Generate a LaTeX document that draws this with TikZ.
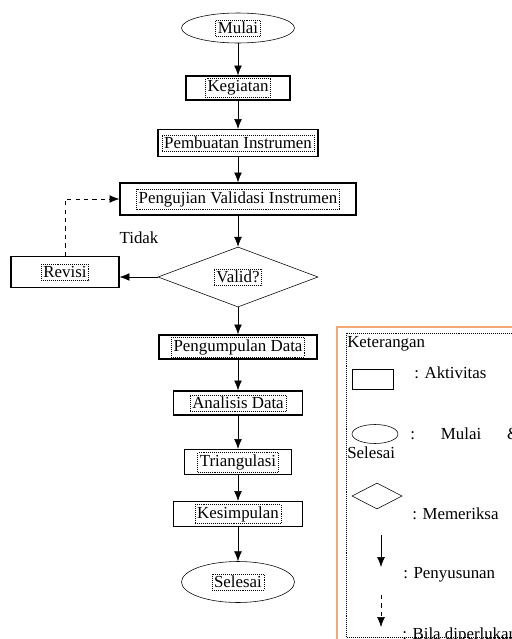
\documentclass[tikz,border=0pt]{standalone}
\usepackage{fontspec}
\setmainfont{Liberation Serif}
\usetikzlibrary{shapes,arrows.meta,positioning}
\definecolor{oranye}{HTML}{F4A872}
\tikzset{
    -{Latex[length=7pt,width=5.5pt]},semithick,
    teks/.style ={draw, densely dotted, thin, inner sep=1.5pt},
    aktv/.style ={rectangle, draw, thick, label={[teks]center:#1}},
    ujung/.style ={ellipse, draw, label={[teks]center:#1}},
    cek/.style ={diamond, draw, aspect=2.6, label={[teks]center:#1}},
    ket/.style = {anchor=west, inner sep=0pt}
}
\begin{document}
\begin{tikzpicture}[x=0.025cm,y=-0.025cm,font=\fontsize{12}{14}\selectfont]
    \useasboundingbox (0,0) rectangle (512,639);

    % alur utama
    \node[ujung=Mulai, minimum width=2.825cm, minimum height=0.75cm] (mulai) at (238,28) {};
    \node[aktv=Kegiatan, minimum width=2.6cm, minimum height=0.6cm] (keg) at (238,88) {};
    \node[aktv=Pembuatan Instrumen, minimum width=4cm, minimum height=0.675cm] (buat) at (238,143) {};
    \node[aktv=Pengujian Validasi Instrumen, minimum width=5.9cm, minimum height=0.8cm] (uji) at (238,199) {};
    \node[cek=Valid?, minimum width=4cm, minimum height=1.5cm] (valid) at (238,277) {};
    \node[aktv=Revisi, minimum width=2.7cm, minimum height=0.775cm] (rev) at (65,272) {};
    \node (tidak) at (139,238) {Tidak};
    \node[aktv=Pengumpulan Data, minimum width=3.95cm, minimum height=0.6cm] (kumpul) at (238,347) {};
    \node[aktv=Analisis Data, minimum width=3.225cm, minimum height=0.6cm] (analisis) at (238,403) {};
    \node[aktv=Triangulasi, minimum width=2.675cm, minimum height=0.625cm] (tri) at (238,462) {};
    \node[aktv=Kesimpulan, minimum width=3.225cm, minimum height=0.625cm] (simpul) at (238,514) {};
    \node[ujung=Selesai, minimum width=2.825cm, minimum height=1.025cm] (selesai) at (238,582) {};

    \draw (mulai) -- (keg);
    \draw (keg) -- (buat);
    \draw (buat) -- (uji);
    \draw (uji) -- (valid);
    \draw (valid.west) -- (rev.east |- valid.west);
    \draw[dashed] (rev) |- (uji);
    \draw (valid) -- (kumpul);
    \draw (kumpul) -- (analisis);
    \draw (analisis) -- (tri);
    \draw (tri) -- (simpul);
    \draw (simpul) -- (selesai);

    % keterangan
    \draw[oranye, thick] (337,327) rectangle (540,660);
    \draw[densely dotted, thin] (346,333) rectangle (540,637);
    \node[ket] (judul) at (347,344) {Keterangan};
    \node[rectangle, draw, minimum width=1.025cm, minimum height=0.5cm] (k1) at (373,379) {};
    \node[ket] (t1) at (414,373) {: Aktivitas};
    \node[ellipse, draw, minimum width=1.15cm, minimum height=0.475cm] (k2) at (375,434) {};
    \node[ket, text width=2.75cm] (t2) at (410,434) {:\hfill Mulai\hfill \&};
    \node[ket] (t2b) at (347,453) {Selesai};
    \node[diamond, draw, aspect=1.9, minimum width=1.25cm, minimum height=0.65cm] (k3) at (377,496) {};
    \node[ket] (t3) at (412,514) {: Memeriksa};
    \coordinate (a1) at (381,535);
    \coordinate (b1) at (381,567);
    \draw (a1) -- (b1);
    \node[ket] (t4) at (403,575) {: Penyusunan};
    \coordinate (a2) at (381,595);
    \coordinate (b2) at (381,627);
    \draw[dashed] (a2) -- (b2);
    \node[ket] (t5) at (402,635) {: Bila diperlukan};

\end{tikzpicture}
\end{document}
